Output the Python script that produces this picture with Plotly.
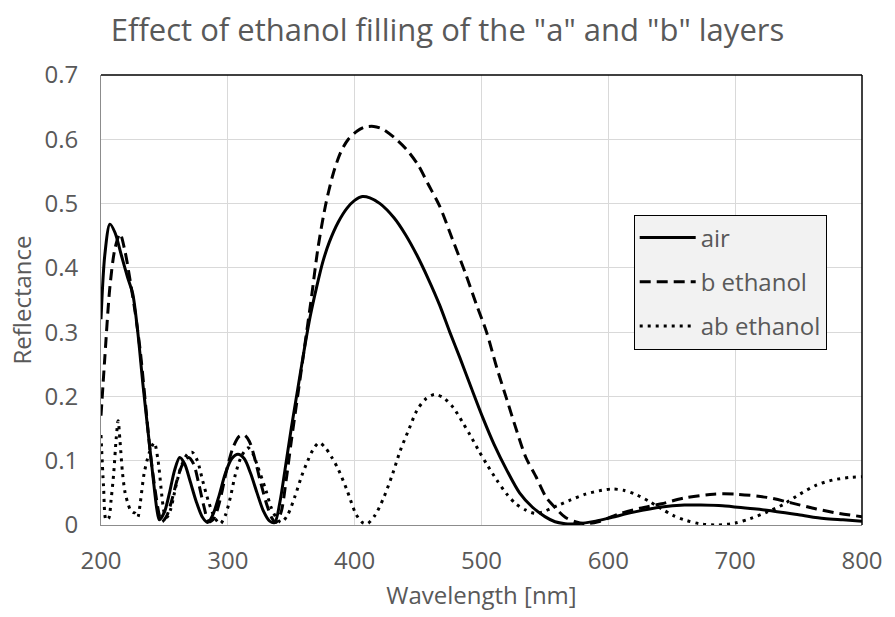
import plotly.graph_objects as go

# ---- data ----
air_x = [200, 203, 207, 211, 216, 221, 225, 229, 233, 237, 241, 244, 246, 250, 254, 258, 262, 266, 270, 275,
         280, 284, 288, 293, 298, 303, 308, 313, 318, 323, 328, 333, 337, 341, 345, 350, 355, 360, 365, 370,
         375, 380, 387, 394, 400, 406, 412, 420, 431, 440, 449, 458, 467, 475, 483, 492, 501, 510, 520, 530, 540,
         550, 558, 566, 575, 590, 603, 620, 642, 660, 673, 690, 710, 725, 750, 770, 785, 800]
air_y = [0.32, 0.42, 0.468, 0.455, 0.42, 0.385, 0.36, 0.30, 0.22, 0.147, 0.075, 0.025, 0.008, 0.02, 0.05, 0.085,
         0.105, 0.095, 0.07, 0.037, 0.012, 0.004, 0.015, 0.045, 0.08, 0.103, 0.11, 0.103, 0.08, 0.05, 0.022,
         0.006, 0.004, 0.035, 0.085, 0.15, 0.21, 0.27, 0.325, 0.37, 0.41, 0.44, 0.471, 0.493, 0.505, 0.511,
         0.509, 0.5, 0.478, 0.452, 0.42, 0.383, 0.342, 0.30, 0.26, 0.213, 0.167, 0.125, 0.085, 0.05, 0.028,
         0.013, 0.005, 0.002, 0.002, 0.006, 0.012, 0.02, 0.028, 0.031, 0.031, 0.03, 0.026, 0.023, 0.016, 0.01,
         0.008, 0.006]

b_x = [200, 203, 207, 211, 215, 219, 223, 227, 231, 235, 239, 243, 246, 248, 252, 256, 260, 264, 269, 273,
       277, 281, 285, 289, 294, 299, 304, 309, 313, 317, 321, 326, 331, 335, 338, 342, 346, 350, 355, 360,
       366, 371, 377, 383, 389, 395, 402, 408, 415, 422, 431, 441, 450, 458, 467, 477, 488, 496, 504, 512,
       520, 528, 535, 543, 551, 559, 566, 574, 582, 592, 608, 625, 642, 660, 683, 700, 725, 745, 764, 782, 800]
b_y = [0.17, 0.26, 0.37, 0.43, 0.453, 0.425, 0.38, 0.33, 0.27, 0.19, 0.11, 0.05, 0.015, 0.005, 0.015, 0.04,
       0.07, 0.093, 0.105, 0.095, 0.065, 0.03, 0.005, 0.01, 0.04, 0.085, 0.12, 0.138, 0.14, 0.13, 0.105, 0.065,
       0.03, 0.01, 0.004, 0.02, 0.07, 0.13, 0.2, 0.27, 0.355, 0.43, 0.497, 0.546, 0.58, 0.6, 0.613, 0.619,
       0.62, 0.616, 0.603, 0.584, 0.56, 0.53, 0.496, 0.445, 0.388, 0.343, 0.30, 0.245, 0.195, 0.145, 0.105,
       0.075, 0.043, 0.025, 0.012, 0.005, 0.002, 0.005, 0.017, 0.026, 0.033, 0.042, 0.048, 0.048, 0.043, 0.034,
       0.025, 0.018, 0.013]

ab_x = [200, 202, 204, 206, 208, 210, 212, 213.5, 215, 217, 219, 221, 223, 225, 227, 229, 231, 234, 238, 242,
        245, 248, 250, 252, 255, 259, 263, 268, 272, 276, 280, 285, 290, 294, 298, 302, 306, 311, 316, 320,
        323, 330, 334, 338, 342, 347, 353, 358, 363, 368, 372, 377, 382, 387, 394, 401, 406, 410, 416, 423,
        430, 436, 443, 449, 456, 463, 470, 478, 485, 491, 498, 504, 512, 520, 527, 535, 542, 548, 555, 562,
        569, 582, 595, 603, 612, 621, 632, 642, 651, 660, 672, 686, 700, 712, 725, 738, 751, 764, 777, 790, 800]
ab_y = [0.14, 0.06, 0.008, 0.01, 0.04, 0.08, 0.135, 0.162, 0.13, 0.08, 0.05, 0.035, 0.024, 0.02, 0.018, 0.012,
        0.035, 0.08, 0.112, 0.128, 0.1, 0.045, 0.018, 0.012, 0.025, 0.06, 0.09, 0.11, 0.113, 0.1, 0.07, 0.035,
        0.01, 0.002, 0.015, 0.043, 0.079, 0.108, 0.12, 0.11, 0.094, 0.054, 0.028, 0.012, 0.004, 0.015, 0.045,
        0.075, 0.10, 0.12, 0.128, 0.12, 0.105, 0.087, 0.054, 0.017, 0.004, 0.002, 0.015, 0.043, 0.08, 0.116,
        0.15, 0.178, 0.196, 0.203, 0.198, 0.182, 0.16, 0.14, 0.115, 0.095, 0.07, 0.048, 0.033, 0.023, 0.018,
        0.02, 0.026, 0.032, 0.038, 0.048, 0.054, 0.056, 0.054, 0.048, 0.037, 0.025, 0.015, 0.008, 0.002, 0.0,
        0.003, 0.01, 0.02, 0.032, 0.048, 0.062, 0.07, 0.074, 0.075]

series_names = ["air", "b ethanol", "ab ethanol"]
x_ticks = [200, 300, 400, 500, 600, 700, 800]
y_ticks = [0, 0.1, 0.2, 0.3, 0.4, 0.5, 0.6, 0.7]
y_tick_labels = ["0", "0.1", "0.2", "0.3", "0.4", "0.5", "0.6", "0.7"]

FONT = "Open Sans"
GREY = "#595959"

fig = go.Figure()
dashes = ["solid", "11px,6px", "3px,5px"]
for i, (xs, ys) in enumerate([(air_x, air_y), (b_x, b_y), (ab_x, ab_y)]):
    fig.add_trace(go.Scatter(
        x=xs, y=ys, mode="lines", name=series_names[i], legendgroup=series_names[i],
        line=dict(color="black", width=3, dash=dashes[i], shape="spline", smoothing=0.8),
    ))

fig.update_layout(
    width=895, height=617,
    margin=dict(l=101, r=21, t=75, b=88),
    paper_bgcolor="white", plot_bgcolor="white",
    font=dict(family=FONT, color=GREY, size=24),
    title=dict(text='Effect of ethanol filling of the "a" and "b" layers',
               xref="container", x=0.5, xanchor="center", yref="container",
               y=1 - 30 / 617, yanchor="middle",
               font=dict(family=FONT, size=31, color=GREY)),
    showlegend=True,
    legend=dict(x=0.70, y=0.69, xanchor="left", yanchor="top",
                bgcolor="#f2f2f2", bordercolor="black", borderwidth=1,
                font=dict(family=FONT, size=24, color=GREY),
                itemwidth=56,
                traceorder="grouped", tracegroupgap=10),
    xaxis=dict(range=[200, 800], tickvals=x_ticks, showgrid=True, gridcolor="#d9d9d9", gridwidth=1,
               showline=True, linecolor="#8c8c8c", linewidth=1, zeroline=False, ticks="",
               ticklabelstandoff=14, ticklabeloverflow="allow",
               title=dict(text="Wavelength [nm]", font=dict(size=24, color=GREY), standoff=12),
               tickfont=dict(size=24, color=GREY)),
    yaxis=dict(range=[0, 0.7], tickvals=y_ticks, ticktext=y_tick_labels, showgrid=True,
               gridcolor="#d9d9d9", gridwidth=1, showline=True, linecolor="#8c8c8c", linewidth=1,
               zeroline=False, ticks="", ticklabelstandoff=17,
               title=dict(text="Reflectance", font=dict(size=24, color=GREY), standoff=6),
               tickfont=dict(size=24, color=GREY)),
)
# black top and right frame of the plot area
fig.add_shape(type="line", xref="paper", yref="paper", x0=0, x1=1, y0=1, y1=1,
              line=dict(color="black", width=1.5))
fig.add_shape(type="line", xref="paper", yref="paper", x0=1, x1=1, y0=0, y1=1,
              line=dict(color="black", width=1.5))

fig.write_html("out.html", config={"displayModeBar": False},
               post_script="document.body.style.margin='0';document.body.style.overflow='hidden';")
